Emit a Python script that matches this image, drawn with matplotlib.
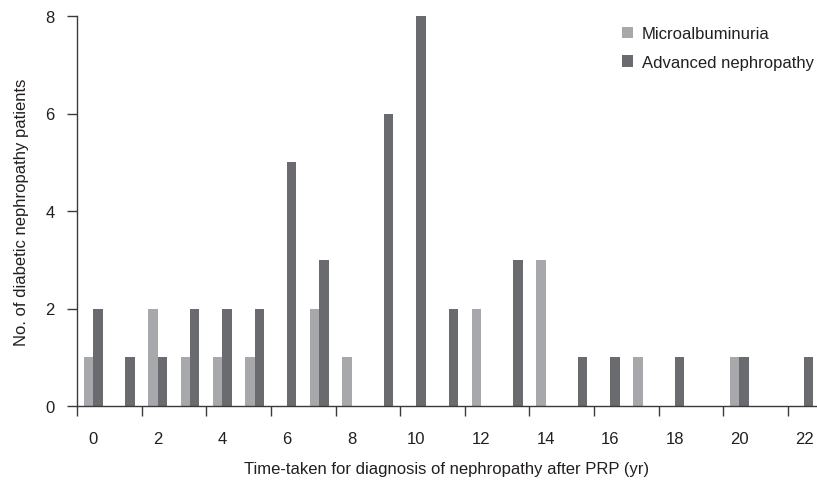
import numpy as np
import matplotlib
matplotlib.use("Agg")
import matplotlib.pyplot as plt

plt.rcParams["font.family"] = ["Liberation Sans", "DejaVu Sans"]
plt.rcParams["font.size"] = 12

years = np.arange(0, 23)
micro = [1, 0, 2, 1, 1, 1, 0, 2, 1, 0, 0, 0, 2, 0, 3, 0, 0, 1, 0, 0, 1, 0, 0]
advanced = [2, 1, 1, 2, 2, 2, 5, 3, 0, 6, 8, 2, 0, 3, 0, 1, 1, 0, 1, 0, 1, 0, 1]
yticks = [0, 2, 4, 6, 8]

LIGHT = "#a7a8ab"
DARK = "#6a6b6f"
TEXT = "#231f20"
AXIS = "#3a3a3a"

fig = plt.figure(figsize=(8.17, 4.81), dpi=100)
ax = fig.add_axes([77 / 817, 1 - 407 / 481, 1 - 77 / 817, (407 - 17) / 481])

w = 0.29
ax.bar(years - w / 2, micro, width=w, color=LIGHT, linewidth=0, label="Microalbuminuria")
ax.bar(years + w / 2, advanced, width=w, color=DARK, linewidth=0, label="Advanced nephropathy")

ax.set_xlim(-0.5, 22.4)
ax.set_ylim(0, 8)

# ticks sit on band edges, labels in band centres
ax.set_xticks(years[::2] - 0.5)
ax.set_xticklabels([])
ax.set_xticks(years[::2], minor=True)
ax.set_xticklabels([str(y) for y in years[::2]], minor=True)
ax.tick_params(axis="x", which="major", direction="out", length=7, width=1, color=AXIS)
ax.tick_params(axis="x", which="minor", length=0, pad=18, labelcolor=TEXT, labelsize=12)

ax.set_yticks(yticks)
ax.tick_params(axis="y", direction="out", length=7, width=1, color=AXIS,
               pad=9, labelcolor=TEXT, labelsize=12)

for s in ["top", "right"]:
    ax.spines[s].set_visible(False)
for s in ["left", "bottom"]:
    ax.spines[s].set_color(AXIS)
    ax.spines[s].set_linewidth(1)

ax.set_xlabel("Time-taken for diagnosis of nephropathy after PRP (yr)", color=TEXT,
              fontsize=12, labelpad=11)
ax.set_ylabel("No. of diabetic nephropathy patients", color=TEXT, fontsize=12, labelpad=12)

leg = ax.legend(loc="upper right", bbox_to_anchor=(1.0, 1 - 24 / 481),
                bbox_transform=fig.transFigure, frameon=False,
                handlelength=0.7, handleheight=0.7, handletextpad=0.5,
                labelspacing=0.8, fontsize=12, borderaxespad=0, borderpad=0.2)
for t in leg.get_texts():
    t.set_color(TEXT)

fig.savefig("out.png", dpi=100)
